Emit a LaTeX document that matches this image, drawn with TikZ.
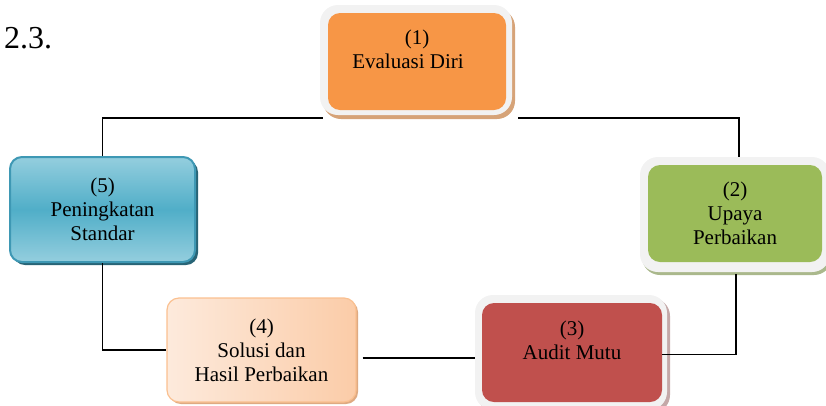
\documentclass[tikz,border=0pt]{standalone}
\usepackage{fontspec}
\setmainfont{Liberation Serif}
\usetikzlibrary{shadows,calc}

\definecolor{framegray}{RGB}{242,242,242}
\definecolor{evalorange}{RGB}{247,150,70}
\definecolor{evalshadow}{RGB}{214,163,120}
\definecolor{upayagreen}{RGB}{155,187,89}
\definecolor{upayashadow}{RGB}{170,184,140}
\definecolor{auditred}{RGB}{192,80,77}
\definecolor{auditshadow}{RGB}{196,168,168}
\definecolor{solpeachL}{RGB}{253,234,220}
\definecolor{solpeachR}{RGB}{251,204,168}
\definecolor{solborder}{RGB}{250,192,144}
\definecolor{solshadow}{RGB}{222,170,130}
\definecolor{stdblueL}{RGB}{148,206,222}
\definecolor{stdblueM}{RGB}{80,174,200}
\definecolor{stdborder}{RGB}{62,152,180}
\definecolor{stdshadow}{RGB}{40,100,118}

\begin{document}
\begin{tikzpicture}[x=1pt,y=1pt,yscale=-1,
  frame/.style={fill=framegray, rounded corners=18pt, inner sep=0pt},
  box/.style={rounded corners=12pt, inner sep=0pt, align=center, font=\fontsize{21}{24}\selectfont},
  link/.style={line width=1.6pt, black}]
\useasboundingbox (0,0) rectangle (826,405);

% Text Node
\node [anchor=base west, inner sep=0pt, font=\fontsize{32}{36}\selectfont] (sec) at (4,48) {2.3.};

%Shape: Rounded Rect [frame (1)]
\node [frame, drop shadow={shadow xshift=3pt, shadow yshift=-4pt, fill=evalshadow, opacity=1}, minimum width=192pt, minimum height=110pt] (f1) at (416,60) {};
%Shape: Rounded Rect [box (1)]
\node [box, fill=evalorange, minimum width=178pt, minimum height=97pt] (b1) at (417,61.5) {(1)\\Evaluasi Diri\hspace*{18pt}\mbox{}\\\mbox{}};

%Shape: Rounded Rect [frame (2)]
\node [frame, drop shadow={shadow xshift=2pt, shadow yshift=-3pt, fill=upayashadow, opacity=1}, minimum width=190pt, minimum height=115pt] (f2) at (735,214.5) {};
%Shape: Rounded Rect [box (2)]
\node [box, fill=upayagreen, minimum width=174pt, minimum height=97pt] (b2) at (735,213.5) {(2)\\Upaya\\Perbaikan};

%Shape: Rounded Rect [frame (3)]
\node [frame, drop shadow={shadow xshift=3pt, shadow yshift=-3pt, fill=auditshadow, opacity=1}, minimum width=192pt, minimum height=115pt] (f3) at (571,352.5) {};
%Shape: Rounded Rect [box (3)]
\node [box, fill=auditred, minimum width=180pt, minimum height=99pt] (b3) at (572,352.5) {(3)\\Audit Mutu\\\mbox{}};

%Shape: Rounded Rect [box (4)]
\node [box, left color=solpeachL, right color=solpeachR, draw=solborder, line width=1.2pt, drop shadow={shadow xshift=2pt, shadow yshift=-2pt, fill=solshadow, opacity=1}, minimum width=189pt, minimum height=104pt] (b4) at (261.5,350) {(4)\\Solusi dan\\Hasil Perbaikan};

%Shape: Rounded Rect [box (5)]
\node [box, top color=stdblueL, bottom color=stdblueL, middle color=stdblueM, draw=stdborder, line width=2pt, drop shadow={shadow xshift=3pt, shadow yshift=-3pt, fill=stdshadow, opacity=1}, minimum width=185pt, minimum height=105pt] (b5) at (102.5,209.5) {(5)\\Peningkatan\\Standar};

%Straight Lines
\draw [link] ($(f1.south west)+(3,3)$) -| (b5.north);
%Straight Lines
\draw [link] ($(f1.south east)+(6,3)$) -| ($(f2.north)+(4,0)$);
%Straight Lines
\draw [link] ($(f2.south)+(1,2)$) |- ($(b3.east)+(0,2)$);
%Straight Lines
\coordinate (m4) at ($(b4.east)+(6,8)$);
\draw [link] (m4) -- (m4 -| f3.west);
%Straight Lines
\draw [link] (b5.south) |- (b4.west);

\end{tikzpicture}
\end{document}
